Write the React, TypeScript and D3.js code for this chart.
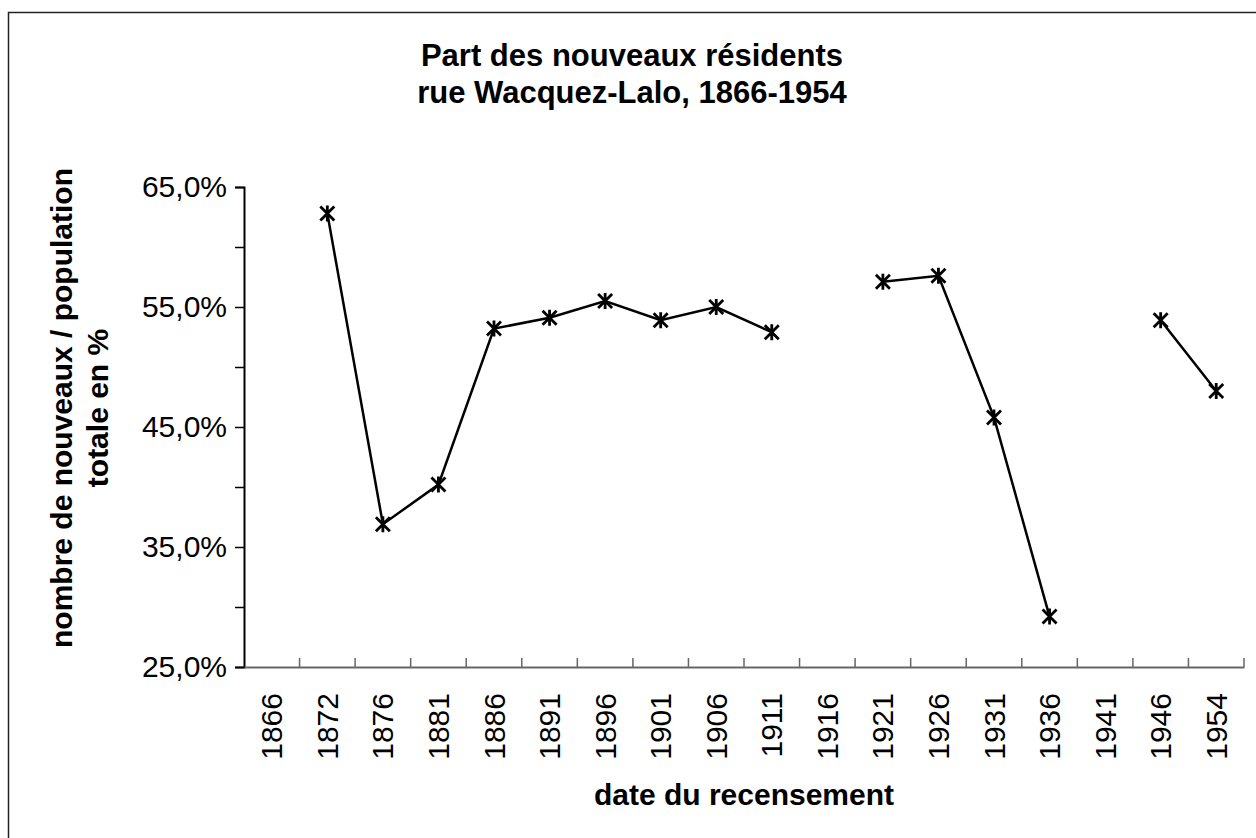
import * as d3 from 'd3';
import React, {useEffect, useRef} from "react";

const WIDTH = 1256;
const HEIGHT = 838;

// census years and share of newcomers (%), null where no data
const years = ["1866", "1872", "1876", "1881", "1886", "1891", "1896", "1901", "1906",
    "1911", "1916", "1921", "1926", "1931", "1936", "1941", "1946", "1954"];
const shares: (number | null)[] = [null, 62.8, 36.9, 40.2, 53.2, 54.1, 55.5, 53.9, 55.0,
    52.9, null, 57.1, 57.6, 45.8, 29.2, null, 53.9, 48.0];
const yTicks = [25, 30, 35, 40, 45, 50, 55, 60, 65];
const yLabelled = [25, 35, 45, 55, 65];

const FONT = "'Liberation Sans', Arial, sans-serif";
const PLOT = {left: 244, right: 1244, top: 187, bottom: 667};
const MARK = 7;

const fmt = (v: number) => v.toFixed(1).replace(".", ",") + "%";

export default function App() {
    const svgRef = useRef<SVGSVGElement>(null);

    useEffect(() => {
        const svg = d3.select(svgRef.current);
        svg.selectAll("*").remove();

        // outer frame (right/bottom edges fall outside the picture)
        svg.append("rect")
            .attr("x", 8.5).attr("y", 12.5)
            .attr("width", 1260).attr("height", 840)
            .attr("fill", "white")
            .attr("stroke", "#222").attr("stroke-width", 1.5);

        const x = d3.scaleBand().domain(years).range([PLOT.left, PLOT.right]);
        const y = d3.scaleLinear().domain([25, 65]).range([PLOT.bottom, PLOT.top]);

        // title
        const title = svg.append("text")
            .attr("text-anchor", "middle")
            .style("font-family", FONT).style("font-weight", "bold").style("font-size", "31px");
        title.append("tspan").attr("x", 632).attr("y", 66).text("Part des nouveaux résidents");
        title.append("tspan").attr("x", 632).attr("y", 103).text("rue Wacquez-Lalo, 1866-1954");

        // y axis
        const yAxis = d3.axisLeft(y).tickValues(yTicks).tickSize(9)
            .tickFormat((d) => yLabelled.includes(+d) ? fmt(+d) : "");
        const yG = svg.append("g")
            .attr("transform", "translate(" + PLOT.left + ",0)")
            .call(yAxis);
        yG.select(".domain").attr("stroke", "#000").attr("stroke-width", 2);
        yG.selectAll(".tick line").attr("stroke", "#000").attr("stroke-width", 1.5);
        yG.selectAll(".tick text")
            .attr("x", -17)
            .style("font-family", FONT).style("font-size", "30px").attr("fill", "#000");

        // x axis
        const xAxis = d3.axisBottom(x).tickSize(0).tickSizeOuter(0);
        const xG = svg.append("g")
            .attr("transform", "translate(0," + PLOT.bottom + ")")
            .call(xAxis);
        xG.select(".domain").attr("stroke", "#666").attr("stroke-width", 2);
        xG.selectAll(".tick text")
            .attr("transform", "rotate(-90)")
            .attr("x", -26).attr("y", 0).attr("dy", "0.35em")
            .attr("text-anchor", "end")
            .style("font-family", FONT).style("font-size", "30px").attr("fill", "#000");
        // separators between categories, pointing inward
        const edges = years.map((yr) => (x(yr) as number) + x.bandwidth());
        xG.selectAll("line.sep").data(edges).enter().append("line")
            .attr("class", "sep")
            .attr("x1", (d) => d).attr("x2", (d) => d)
            .attr("y1", 0).attr("y2", -9)
            .attr("stroke", "#666").attr("stroke-width", 1.5);

        // axis titles
        svg.append("text")
            .attr("x", 744).attr("y", 805)
            .attr("text-anchor", "middle")
            .style("font-family", FONT).style("font-weight", "bold").style("font-size", "30px")
            .text("date du recensement");

        const yt = svg.append("text")
            .attr("transform", "translate(0,408) rotate(-90)")
            .attr("text-anchor", "middle")
            .style("font-family", FONT).style("font-weight", "bold").style("font-size", "30px");
        yt.append("tspan").attr("x", 0).attr("y", 72).text("nombre de nouveaux / population");
        yt.append("tspan").attr("x", 0).attr("y", 108).text("totale en %");

        // series
        const pts = years.map((yr, i) => ({yr, v: shares[i]}));
        const cx = (d: { yr: string }) => (x(d.yr) as number) + x.bandwidth() / 2;
        const line = d3.line<{ yr: string, v: number | null }>()
            .defined((d) => d.v !== null)
            .x(cx)
            .y((d) => y(d.v as number));
        svg.append("path")
            .datum(pts)
            .attr("d", line)
            .attr("fill", "none")
            .attr("stroke", "#000")
            .attr("stroke-width", 2.5);

        svg.append("g").selectAll("path.mark")
            .data(pts.filter((d) => d.v !== null))
            .enter().append("path")
            .attr("class", "mark")
            .attr("transform", (d) => "translate(" + cx(d) + "," + y(d.v as number) + ")")
            .attr("d", "M" + -MARK + "," + -MARK + "L" + MARK + "," + MARK +
                "M" + MARK + "," + -MARK + "L" + -MARK + "," + MARK +
                "M0," + (-MARK - 1) + "L0," + (MARK + 1))
            .attr("stroke", "#000")
            .attr("stroke-width", 2.8)
            .attr("fill", "none");
    }, []);

    return (
        <svg ref={svgRef} width={WIDTH} height={HEIGHT}
             style={{position: "absolute", left: 0, top: 0, display: "block"}}/>
    );
}
